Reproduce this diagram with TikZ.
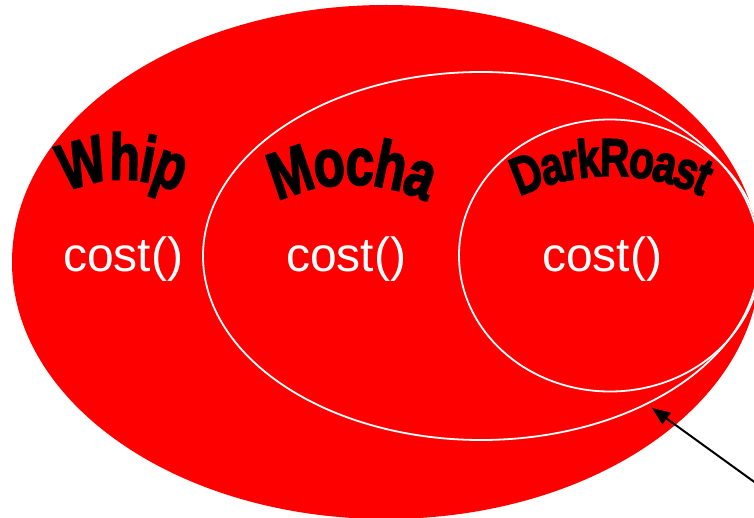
\documentclass[tikz,border=0pt]{standalone}
\usepackage{fontspec}
\setmainfont{Liberation Sans}
\newfontfamily\heavyfont{Liberation Sans}[FakeBold=3]
\usetikzlibrary{shapes.geometric,arrows.meta,decorations.text}
\newcommand\waWhip{\heavyfont\bfseries\fontsize{50}{50}\selectfont}
\newcommand\waMocha{\heavyfont\bfseries\fontsize{51}{51}\selectfont}
\newcommand\waDark{\heavyfont\bfseries\fontsize{41}{41}\selectfont}
\tikzset{
  ring/.style={ellipse, draw=white, line width=1.8pt, inner sep=0pt},
  costlbl/.style={text=white, anchor=base, inner sep=0pt, font=\fontsize{48}{48}\selectfont},
  pointer/.style={line width=2pt, -{Triangle[length=18pt,width=14pt]}},
  arch/.style n args={2}{decorate, decoration={text effects along path, text={#1}, text align=center,
   text effects/.cd, text along path,
   character widths={font=#2, inner xsep=-1pt},
   characters={font=#2, inner sep=0pt, anchor=base, yscale=1.3}}}
}
\begin{document}
\begin{tikzpicture}[x=1pt,y=-1pt]
\useasboundingbox (0,0) rectangle (754,518);
\clip (0,0) rectangle (754,518);
\node (whip) [ellipse, fill=red, inner sep=0pt, minimum width=748pt, minimum height=514pt] at (386,262) {};
\node (mocha) [ring, minimum width=556pt, minimum height=368pt] at (481,256) {};
\node (roast) [ring, minimum width=302pt, minimum height=272pt] at (610,255.5) {};
\node (c1) [costlbl] at (123,272) {cost()};
\node (c2) [costlbl] at (346,272) {cost()};
\node (c3) [costlbl] at (602,272) {cost()};
\path [arch={Whip}{\waWhip}] (26.2,224.2) arc[start angle=140, end angle=40, radius=125pt];
\path [arch={Mocha}{\waMocha}] (221.8,245.2) arc[start angle=140, end angle=40, radius=170pt];
\path [arch={DarkRoast}{\waDark}] (446.3,252.8) arc[start angle=140, end angle=40, radius=215pt];
\coordinate (tail) at (800,515);
\coordinate (tip) at (652,408);
\draw [pointer] (tail) -- (tip);
\end{tikzpicture}
\end{document}
